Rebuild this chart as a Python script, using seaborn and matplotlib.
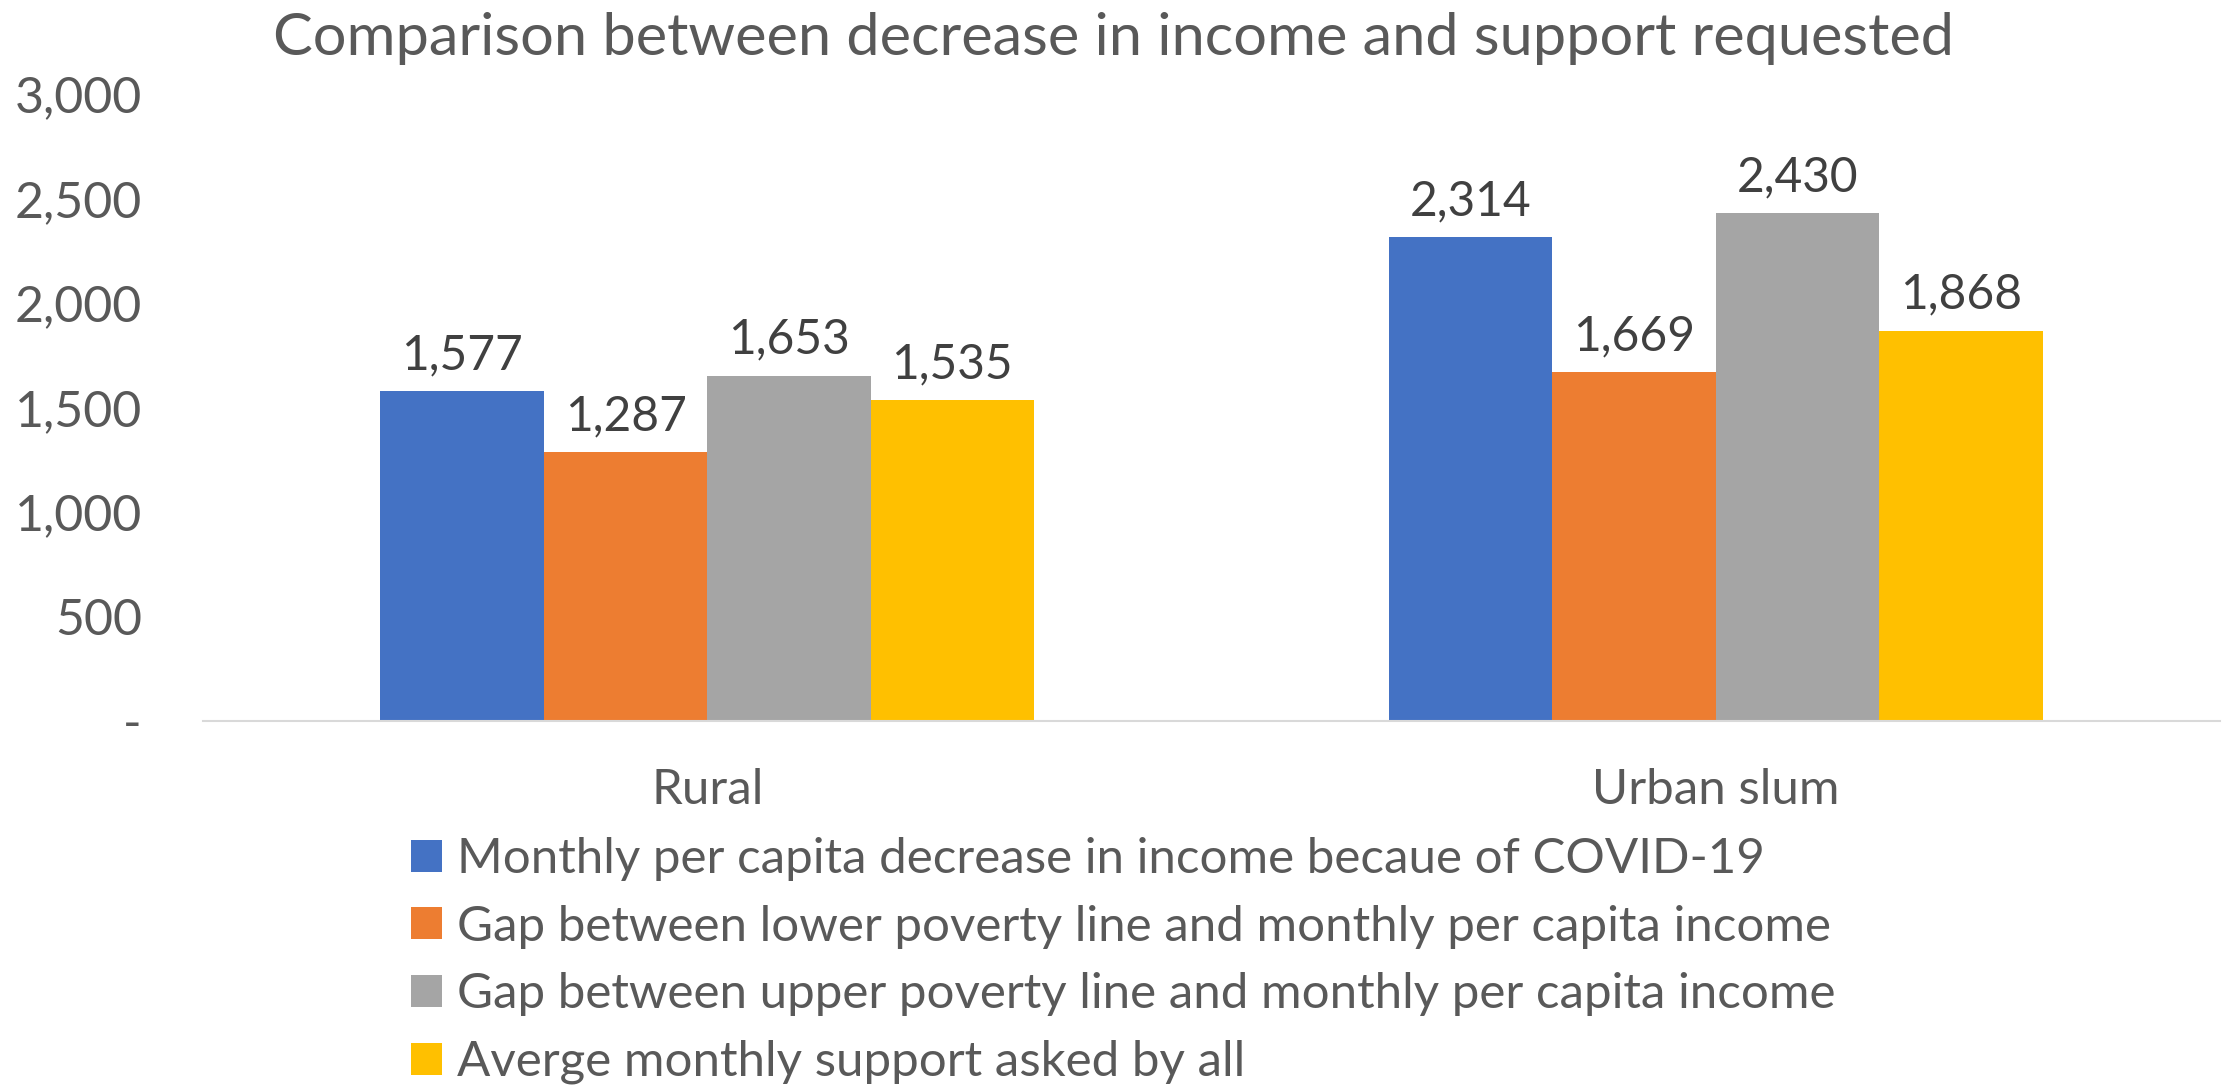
import matplotlib
matplotlib.use("Agg")
import matplotlib.pyplot as plt
import seaborn as sns
import pandas as pd

# Data
categories = ["Rural", "Urban slum"]
series_names = [
    "Monthly per capita decrease in income becaue of COVID-19",
    "Gap between lower poverty line and monthly per capita income",
    "Gap between upper poverty line and monthly per capita income",
    "Averge monthly support asked by all",
]
income_decrease = [1577, 2314]
gap_lower_line = [1287, 1669]
gap_upper_line = [1653, 2430]
support_asked = [1535, 1868]
series_colors = ["#4472C4", "#ED7D31", "#A5A5A5", "#FFC000"]
y_ticks = [0, 500, 1000, 1500, 2000, 2500, 3000]
y_tick_labels = ["-", "500", "1,000", "1,500", "2,000", "2,500", "3,000"]
title = "Comparison between decrease in income and support requested"

values = [income_decrease, gap_lower_line, gap_upper_line, support_asked]
rows = []
for name, vals in zip(series_names, values):
    for cat, v in zip(categories, vals):
        rows.append({"category": cat, "series": name, "value": v})
df = pd.DataFrame(rows)

sns.set_theme(style="white")
plt.rcParams["font.family"] = ["Lato", "DejaVu Sans"]

W, H = 2231, 1087
fig = plt.figure(figsize=(W / 100, H / 100), dpi=100)
ax = fig.add_axes([203 / W, 1 - 721 / H, (2220 - 203) / W, (721 - 94) / H])

sns.barplot(data=df, x="category", y="value", hue="series",
            hue_order=series_names, order=categories,
            palette=series_colors, saturation=1, width=0.648,
            errorbar=None, ax=ax, linewidth=0)

handles, labels = ax.get_legend_handles_labels()
if ax.get_legend() is not None:
    ax.get_legend().remove()

for cont in ax.containers:
    ax.bar_label(cont, fmt="{:,.0f}", padding=10, fontsize=34.5, color="#404040")

ax.set_ylim(0, 3000)
ax.set_xlim(-0.5, 1.5)
ax.set_yticks(y_ticks)
ax.set_yticklabels(y_tick_labels)
ax.set_xlabel("")
ax.set_ylabel("")
ax.tick_params(axis="y", length=0, pad=44, labelsize=36, labelcolor="#595959")
ax.tick_params(axis="x", length=0, pad=34, labelsize=35.5, labelcolor="#595959")
for s in ["top", "right", "left"]:
    ax.spines[s].set_visible(False)
ax.spines["bottom"].set_color("#d9d9d9")
ax.spines["bottom"].set_linewidth(1.5)

fig.text(0.499, 1 - 55 / H, title, ha="center", va="baseline",
         fontsize=42.8, color="#595959")

fig.legend(handles, labels, loc="upper left",
           bbox_to_anchor=(411 / W, 1 - 837 / H),
           frameon=False, fontsize=35.5, labelcolor="#595959",
           handlelength=0.63, handleheight=0.63, handletextpad=0.3,
           labelspacing=0.48, borderpad=0, borderaxespad=0)

fig.savefig("out.png", dpi=100)
